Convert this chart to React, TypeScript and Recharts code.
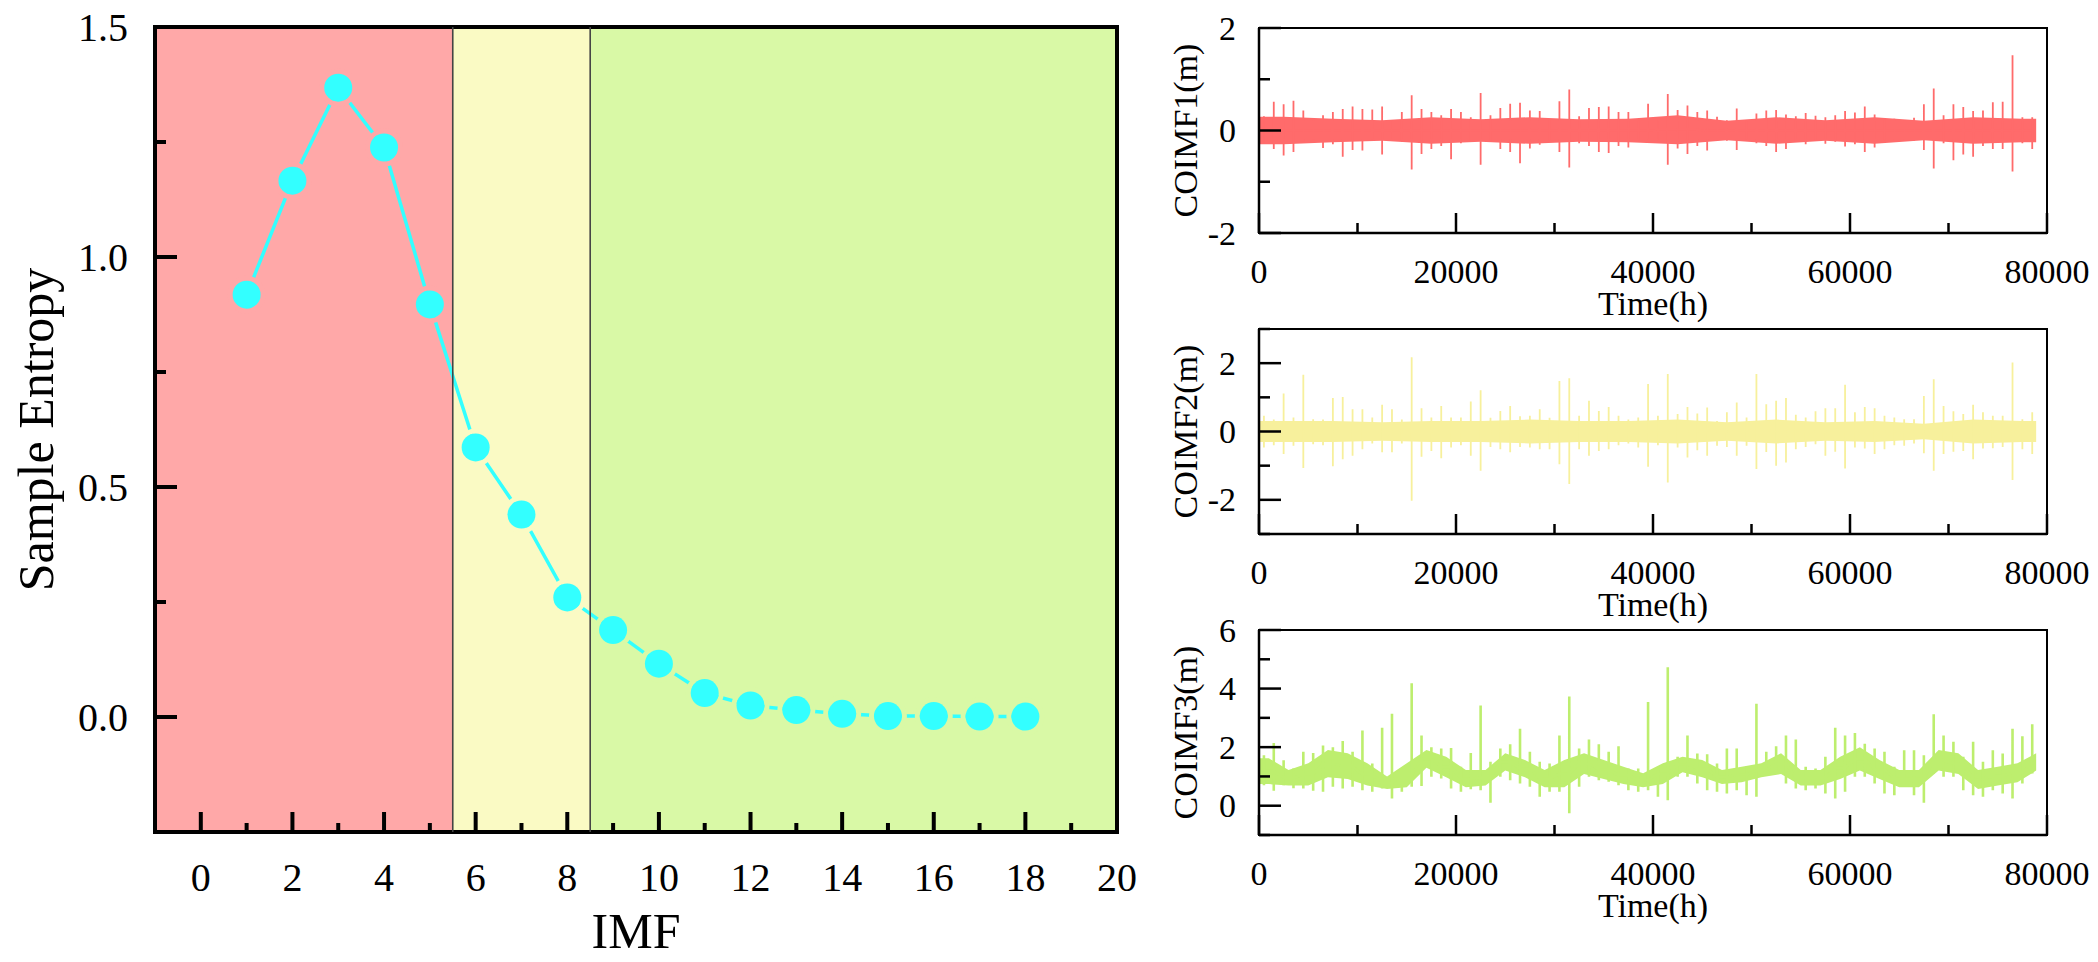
import React from "react";
import { ComposedChart, LineChart, Line, Area, XAxis, YAxis, ReferenceArea, ReferenceLine, Label } from "recharts";

const SERIF = '"Liberation Serif", "Times New Roman", Times, serif';

// ---- left panel: sample entropy per IMF ----
const IMF = [1, 2, 3, 4, 5, 6, 7, 8, 9, 10, 11, 12, 13, 14, 15, 16, 17, 18];
const ENTROPY = [0.918, 1.166, 1.368, 1.238, 0.897, 0.586, 0.44, 0.26, 0.189, 0.116, 0.052, 0.025, 0.015, 0.007, 0.002, 0.002, 0.001, 0.001];
const IMF_TICKS = [0, 1, 2, 3, 4, 5, 6, 7, 8, 9, 10, 11, 12, 13, 14, 15, 16, 17, 18, 19, 20];
const ENTROPY_TICKS = [0, 0.25, 0.5, 0.75, 1, 1.25, 1.5];
const BAND_FROM = [-1, 5.5, 8.5];
const BAND_TO = [5.5, 8.5, 20];
const BAND_FILL = ["#FFA8A8", "#FAFAC4", "#D9F9A6"];

// ---- right panels: COIMF series ----
// max / min per 1000 h bin
const BIN_HOURS = 1000;
const END_HOURS = 78900;
const TIME_TICKS = [0, 10000, 20000, 30000, 40000, 50000, 60000, 70000, 80000];

const COIMF1_HI = [0.28, 0.56, 0.51, 0.58, 0.39, 0.24, 0.3, 0.36, 0.42, 0.47, 0.42, 0.41, 0.47, 0.2, 0.36, 0.69, 0.42, 0.36, 0.3, 0.42, 0.36, 0.26, 0.73, 0.3, 0.44, 0.52, 0.54, 0.39, 0.38, 0.22, 0.57, 0.8, 0.28, 0.44, 0.46, 0.47, 0.36, 0.36, 0.2, 0.52, 0.2, 0.71, 0.4, 0.49, 0.36, 0.39, 0.27, 0.2, 0.43, 0.2, 0.33, 0.39, 0.4, 0.31, 0.28, 0.34, 0.29, 0.26, 0.3, 0.38, 0.35, 0.47, 0.31, 0.22, 0.23, 0.2, 0.25, 0.51, 0.82, 0.3, 0.51, 0.46, 0.38, 0.39, 0.55, 0.56, 1.47, 0.26, 0.26];
const COIMF1_LO = [-0.25, -0.36, -0.49, -0.42, -0.22, -0.18, -0.34, -0.27, -0.51, -0.38, -0.39, -0.18, -0.47, -0.2, -0.22, -0.76, -0.46, -0.36, -0.3, -0.56, -0.25, -0.2, -0.67, -0.22, -0.36, -0.42, -0.64, -0.35, -0.28, -0.2, -0.42, -0.72, -0.25, -0.3, -0.42, -0.44, -0.3, -0.33, -0.2, -0.18, -0.2, -0.67, -0.35, -0.46, -0.3, -0.39, -0.2, -0.2, -0.38, -0.18, -0.25, -0.3, -0.42, -0.36, -0.22, -0.27, -0.2, -0.26, -0.22, -0.31, -0.27, -0.42, -0.33, -0.2, -0.17, -0.17, -0.2, -0.38, -0.74, -0.25, -0.58, -0.47, -0.51, -0.3, -0.36, -0.36, -0.8, -0.25, -0.36];
// dense body of the trace, per 5000 h
const BODY1_HOURS = 5000;
const BODY1_HI = [0.27, 0.23, 0.2, 0.26, 0.22, 0.26, 0.22, 0.23, 0.3, 0.19, 0.26, 0.2, 0.26, 0.19, 0.26, 0.23];
const BODY1_LO = [-0.27, -0.23, -0.2, -0.26, -0.22, -0.26, -0.22, -0.23, -0.27, -0.19, -0.26, -0.2, -0.26, -0.19, -0.26, -0.23];

const COIMF2_HI = [0.46, 0.35, 1.11, 0.41, 1.66, 0.36, 0.35, 0.98, 1.01, 0.65, 0.65, 0.41, 0.78, 0.65, 0.35, 2.17, 0.68, 0.41, 0.75, 0.41, 0.41, 0.88, 1.21, 0.4, 0.6, 0.75, 0.45, 0.46, 0.65, 0.4, 1.48, 1.56, 0.46, 0.9, 0.6, 0.72, 0.46, 0.35, 0.41, 1.39, 0.46, 1.68, 0.51, 0.72, 0.53, 0.7, 0.31, 0.56, 0.85, 0.41, 1.68, 0.8, 0.9, 0.98, 0.49, 0.41, 0.59, 0.68, 0.68, 1.37, 0.56, 0.72, 0.68, 0.46, 0.41, 0.36, 0.36, 1.04, 1.53, 0.75, 0.59, 0.51, 0.78, 0.56, 0.46, 0.46, 2.02, 0.36, 0.56];
const COIMF2_LO = [-0.47, -0.4, -0.66, -0.42, -1.07, -0.37, -0.4, -1.02, -0.81, -0.71, -0.52, -0.35, -0.61, -0.61, -0.35, -2.03, -0.74, -0.57, -0.78, -0.47, -0.4, -0.71, -1.15, -0.45, -0.52, -0.61, -0.45, -0.47, -0.52, -0.52, -0.96, -1.54, -0.52, -0.71, -0.57, -0.52, -0.4, -0.35, -0.47, -1.03, -0.4, -1.49, -0.47, -0.76, -0.55, -0.71, -0.42, -0.45, -0.71, -0.42, -1.1, -0.6, -1.0, -0.91, -0.52, -0.45, -0.37, -0.71, -0.59, -1.08, -0.47, -0.5, -0.66, -0.52, -0.4, -0.42, -0.35, -0.64, -1.15, -0.66, -0.59, -0.57, -0.81, -0.5, -0.49, -0.45, -1.42, -0.52, -0.66];
const BODY2_HOURS = 5000;
const BODY2_HI = [0.31, 0.31, 0.27, 0.31, 0.31, 0.35, 0.31, 0.31, 0.35, 0.27, 0.35, 0.27, 0.31, 0.23, 0.35, 0.31];
const BODY2_LO = [-0.31, -0.31, -0.27, -0.31, -0.31, -0.35, -0.31, -0.31, -0.35, -0.27, -0.35, -0.27, -0.31, -0.23, -0.35, -0.31];

const COIMF3_HI = [1.72, 2.14, 1.55, 1.27, 1.84, 1.8, 2.06, 2.0, 2.21, 1.84, 2.57, 1.44, 2.66, 3.14, 1.1, 4.18, 2.4, 2.0, 1.95, 1.97, 1.33, 1.8, 3.42, 1.5, 1.95, 2.1, 2.63, 1.84, 1.5, 1.44, 2.4, 3.73, 1.95, 2.26, 2.1, 1.84, 2.03, 1.27, 1.27, 3.54, 1.21, 4.73, 1.67, 2.4, 1.78, 1.76, 1.44, 1.95, 1.95, 1.33, 3.48, 1.84, 2.03, 2.4, 2.26, 1.33, 1.27, 1.67, 2.66, 2.4, 2.48, 2.12, 1.95, 1.84, 1.33, 1.89, 1.89, 1.72, 3.12, 2.4, 2.18, 1.67, 2.18, 1.5, 1.89, 1.78, 2.63, 2.37, 2.78];
const COIMF3_LO = [0.7, 0.51, 0.7, 0.6, 0.59, 0.51, 0.48, 0.65, 0.59, 0.65, 0.53, 0.48, 0.59, 0.25, 0.48, 0.65, 0.67, 0.99, 0.93, 0.59, 0.48, 0.56, 0.53, 0.1, 0.99, 0.87, 0.76, 0.65, 0.31, 0.48, 0.48, -0.26, 0.65, 0.99, 0.87, 0.82, 0.7, 0.53, 0.48, 0.53, 0.31, 0.19, 0.99, 0.99, 0.76, 0.53, 0.48, 0.42, 0.53, 0.36, 0.31, 1.04, 1.1, 0.76, 0.59, 0.53, 0.59, 0.42, 0.25, 0.48, 0.99, 0.99, 0.76, 0.42, 0.36, 0.65, 0.36, 0.1, 1.1, 0.99, 0.99, 0.53, 0.36, 0.31, 0.53, 0.42, 0.25, 0.76, 1.1];
const BODY3_HOURS = 2000;
const BODY3_HI = [1.62, 1.22, 1.45, 1.9, 1.79, 1.45, 1.0, 1.45, 1.9, 1.67, 1.22, 1.22, 1.79, 1.56, 1.22, 1.56, 1.79, 1.56, 1.33, 1.11, 1.45, 1.67, 1.56, 1.22, 1.33, 1.45, 1.79, 1.22, 1.22, 1.67, 2.0, 1.56, 1.22, 1.22, 1.9, 1.79, 1.22, 1.33, 1.45, 1.79];
const BODY3_LO = [0.74, 0.69, 0.69, 0.97, 0.91, 0.69, 0.57, 0.63, 1.3, 0.97, 0.63, 0.69, 1.2, 0.97, 0.63, 0.63, 1.08, 0.91, 0.74, 0.63, 0.74, 1.14, 0.97, 0.74, 0.8, 0.97, 1.08, 0.69, 0.69, 0.91, 1.2, 0.91, 0.63, 0.63, 1.2, 1.08, 0.57, 0.69, 0.8, 1.2];

const entropyData = IMF.map((imf, i) => ({ imf, entropy: ENTROPY[i] }));

// which body block a time falls in
const blockAt = (t: number, hours: number, n: number) => Math.min(n - 1, Math.floor(t / hours));

// every 1000 h bin becomes one vertical stroke from its max to its min;
// the trace hops between strokes through the middle of the body so the hops stay hidden
function spikes(hi: number[], lo: number[], bodyHi: number[], bodyLo: number[], hours: number) {
  const rows: { t: number; v: number }[] = [];
  hi.forEach((h, i) => {
    const t = i * BIN_HOURS + BIN_HOURS / 2;
    const b = blockAt(t, hours, bodyHi.length);
    const mid = (bodyHi[b] + bodyLo[b]) / 2;
    rows.push({ t, v: mid }, { t, v: h }, { t, v: lo[i] }, { t, v: mid });
  });
  return rows;
}

// body band through the block centres, held out to both ends of the record
function body(bodyHi: number[], bodyLo: number[], hours: number) {
  const rows = bodyHi.map((h, i) => ({ t: Math.min(END_HOURS, i * hours + hours / 2), band: [bodyLo[i], h] }));
  const last = bodyHi.length - 1;
  return [{ t: 0, band: [bodyLo[0], bodyHi[0]] }, ...rows, { t: END_HOURS, band: [bodyLo[last], bodyHi[last]] }];
}

type TickOpts = {
  isMajor: (v: number) => boolean;
  long: number;
  short: number;
  width: number;
  gap: number;
  size: number;
  fmt: (v: number) => string;
};

// inward ticks drawn by hand, axis tickSize/tickMargin are 0 so x,y sit on the axis line
const bottomTick = (o: TickOpts) => (props: any) => {
  const { x, y, payload } = props;
  const major = o.isMajor(payload.value);
  return (
    <g>
      <line x1={x} x2={x} y1={y} y2={y - (major ? o.long : o.short)} stroke="#000" strokeWidth={o.width} />
      {major && (
        <text x={x} y={y + o.gap} textAnchor="middle" fontSize={o.size} fontFamily={SERIF} fill="#000">
          {o.fmt(payload.value)}
        </text>
      )}
    </g>
  );
};

const leftTick = (o: TickOpts) => (props: any) => {
  const { x, y, payload } = props;
  const major = o.isMajor(payload.value);
  return (
    <g>
      <line x1={x} x2={x + (major ? o.long : o.short)} y1={y} y2={y} stroke="#000" strokeWidth={o.width} />
      {major && (
        <text x={x - o.gap} y={y} dy="0.34em" textAnchor="end" fontSize={o.size} fontFamily={SERIF} fill="#000">
          {o.fmt(payload.value)}
        </text>
      )}
    </g>
  );
};

const xTitle = (text: string, off: number, size: number) => (props: any) => {
  const vb = props.viewBox || { x: 0, y: 0, width: 0, height: 0 };
  return (
    <text x={vb.x + vb.width / 2} y={vb.y + off} textAnchor="middle" fontSize={size} fontFamily={SERIF} fill="#000">
      {text}
    </text>
  );
};

const yTitle = (text: string, off: number, size: number) => (props: any) => {
  const vb = props.viewBox || { x: 0, y: 0, width: 0, height: 0 };
  const cx = vb.x + off;
  const cy = vb.y + vb.height / 2;
  return (
    <text x={cx} y={cy} transform={`rotate(-90 ${cx} ${cy})`} textAnchor="middle" fontSize={size} fontFamily={SERIF} fill="#000">
      {text}
    </text>
  );
};

const renderDot = (props: any) => {
  const { cx, cy, payload, index } = props;
  let band = BAND_FROM.findIndex((f, i) => payload.imf >= f && payload.imf < BAND_TO[i]);
  if (band < 0) band = BAND_FILL.length - 1;
  return (
    <g key={`dot-${index}`}>
      <circle cx={cx} cy={cy} r={16.5} fill="none" stroke={BAND_FILL[band]} strokeWidth={5} />
      <circle cx={cx} cy={cy} r={14} fill="#33FFFF" />
    </g>
  );
};

function EntropyChart() {
  return (
    <div style={{ position: "absolute", left: 0, top: 0 }}>
      <LineChart width={1160} height={962} data={entropyData} margin={{ top: 27, right: 43, bottom: 0, left: 0 }}>
        {BAND_FROM.map((f, i) => (
          <ReferenceArea key={`band-${i}`} x1={f} x2={BAND_TO[i]} y1={-0.25} y2={1.5} fill={BAND_FILL[i]} fillOpacity={1} stroke="none" />
        ))}
        <XAxis
          type="number"
          dataKey="imf"
          domain={[-1, 20]}
          ticks={IMF_TICKS}
          interval={0}
          height={130}
          tickSize={0}
          tickMargin={0}
          axisLine={false}
          tickLine={false}
          allowDataOverflow
          tick={bottomTick({ isMajor: (v) => v % 2 === 0, long: 20, short: 9, width: 4, gap: 59, size: 40, fmt: (v) => String(v) })}
        >
          <Label content={xTitle("IMF", 116, 50)} />
        </XAxis>
        <YAxis
          type="number"
          domain={[-0.25, 1.5]}
          ticks={ENTROPY_TICKS}
          interval={0}
          width={155}
          tickSize={0}
          tickMargin={0}
          axisLine={false}
          tickLine={false}
          allowDataOverflow
          tick={leftTick({ isMajor: (v) => Math.abs(v * 2 - Math.round(v * 2)) < 1e-9, long: 22, short: 11, width: 4, gap: 27, size: 40, fmt: (v) => v.toFixed(1) })}
        >
          <Label content={yTitle("Sample Entropy", 53, 50)} />
        </YAxis>
        <Line dataKey="entropy" stroke="#33FFFF" strokeWidth={3.5} dot={renderDot} activeDot={false} isAnimationActive={false} />
        {BAND_TO.slice(0, 2).map((x) => (
          <ReferenceLine key={`edge-${x}`} x={x} stroke="#444" strokeWidth={1.6} />
        ))}
        <ReferenceArea x1={-1} x2={20} y1={-0.25} y2={1.5} fill="none" stroke="#000" strokeWidth={4} />
      </LineChart>
    </div>
  );
}

type PanelProps = {
  top: number;
  title: string;
  color: string;
  hi: number[];
  lo: number[];
  bodyHi: number[];
  bodyLo: number[];
  bodyHours: number;
  domain: [number, number];
  ticks: number[];
  strokeW: number;
};

function ImfPanel({ top, title, color, hi, lo, bodyHi, bodyLo, bodyHours, domain, ticks, strokeW }: PanelProps) {
  const spikeRows = spikes(hi, lo, bodyHi, bodyLo, bodyHours);
  const bodyRows = body(bodyHi, bodyLo, bodyHours);
  return (
    <div style={{ position: "absolute", left: 1100, top: top - 20 }}>
      <ComposedChart width={998} height={321} margin={{ top: 20, right: 51, bottom: 0, left: 0 }}>
        <XAxis
          type="number"
          dataKey="t"
          domain={[0, 80000]}
          ticks={TIME_TICKS}
          interval={0}
          height={96}
          tickSize={0}
          tickMargin={0}
          axisLine={{ stroke: "#000", strokeWidth: 2.5 }}
          tickLine={false}
          allowDataOverflow
          tick={bottomTick({ isMajor: (v) => v % 20000 === 0, long: 20, short: 10, width: 2.5, gap: 50, size: 34, fmt: (v) => String(v) })}
        >
          <Label content={xTitle("Time(h)", 82, 34)} />
        </XAxis>
        <YAxis
          type="number"
          domain={domain}
          ticks={ticks}
          interval={0}
          width={159}
          tickSize={0}
          tickMargin={0}
          axisLine={{ stroke: "#000", strokeWidth: 2.5 }}
          tickLine={false}
          allowDataOverflow
          tick={leftTick({ isMajor: (v) => v % 2 === 0, long: 22, short: 11, width: 2.5, gap: 23, size: 34, fmt: (v) => String(v) })}
        >
          <Label content={yTitle(title, 97, 34)} />
        </YAxis>
        <Area data={bodyRows} dataKey="band" type="linear" stroke="none" fill={color} fillOpacity={1} activeDot={false} isAnimationActive={false} />
        <Line data={spikeRows} dataKey="v" stroke={color} strokeWidth={strokeW} dot={false} activeDot={false} isAnimationActive={false} />
        <ReferenceArea x1={0} x2={80000} y1={domain[0]} y2={domain[1]} fill="none" stroke="#000" strokeWidth={2} />
      </ComposedChart>
    </div>
  );
}

export default function App() {
  return (
    <div style={{ position: "absolute", left: 0, top: 0, width: 2098, height: 962, background: "#fff" }}>
      <EntropyChart />
      <ImfPanel top={27.5} title="COIMF1(m)" color="#FF6B6B" hi={COIMF1_HI} lo={COIMF1_LO} bodyHi={BODY1_HI} bodyLo={BODY1_LO} bodyHours={BODY1_HOURS} domain={[-2, 2]} ticks={[-2, -1, 0, 1, 2]} strokeW={1.8} />
      <ImfPanel top={328.5} title="COIMF2(m)" color="#F7F09C" hi={COIMF2_HI} lo={COIMF2_LO} bodyHi={BODY2_HI} bodyLo={BODY2_LO} bodyHours={BODY2_HOURS} domain={[-3, 3]} ticks={[-3, -2, -1, 0, 1, 2, 3]} strokeW={1.8} />
      <ImfPanel top={629.5} title="COIMF3(m)" color="#BDEE6E" hi={COIMF3_HI} lo={COIMF3_LO} bodyHi={BODY3_HI} bodyLo={BODY3_LO} bodyHours={BODY3_HOURS} domain={[-1, 6]} ticks={[-1, 0, 1, 2, 3, 4, 5, 6]} strokeW={2.6} />
    </div>
  );
}
